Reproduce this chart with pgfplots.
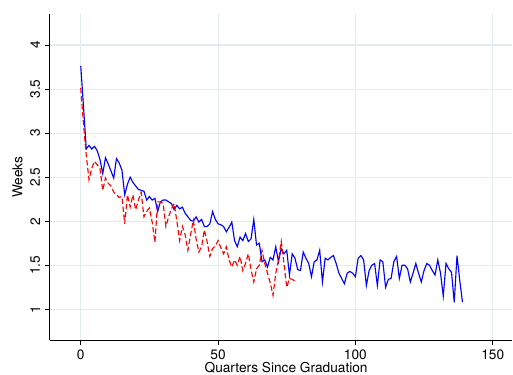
\documentclass[border=0pt]{standalone}
\usepackage{fontspec}
\setmainfont{TeX Gyre Heros}
\usepackage{pgfplots}
\pgfplotsset{compat=1.18}
\definecolor{gridc}{RGB}{226,235,237}
\definecolor{sblue}{RGB}{0,0,255}
\definecolor{sred}{RGB}{255,0,0}
\begin{document}
\fontsize{10.25pt}{12pt}\selectfont
\begin{tikzpicture}
\begin{axis}[
  scale only axis,
  width=346.9pt, height=244.5pt,
  xmin=-11.38, xmax=157.2,
  ymin=0.648, ymax=4.352,
  axis x line*=bottom, axis y line*=left,
  axis line style={-, line width=0.6pt, black},
  tick align=outside,
  major tick length=3.4pt,
  tick style={black, line width=0.6pt},
  xtick={0,50,100,150},
  ytick={1,1.5,2,2.5,3,3.5,4},
  xmajorgrids, ymajorgrids,
  grid style={gridc, line width=0.8pt},
  /pgf/number format/assume math mode=true,
  tick label style={font=\fontsize{10.25pt}{12pt}\selectfont},
  yticklabel style={rotate=90, anchor=south},
  xlabel={Quarters Since Graduation},
  ylabel={Weeks},
  every axis x label/.style={at={(axis description cs:0.511,-0.098)}, anchor=base},
  every axis y label/.style={at={(axis description cs:-0.069,0.5)}, anchor=center, rotate=90},
]
\addplot[sblue, line width=0.85pt] coordinates {
(0,3.76)(1,3.30)(2,2.82)(3,2.86)(4,2.82)(5,2.85)(6,2.80)(7,2.70)(8,2.54)(9,2.72)
(10,2.65)(11,2.57)(12,2.49)(13,2.71)(14,2.66)(15,2.58)(16,2.30)(17,2.42)(18,2.50)(19,2.44)
(20,2.40)(21,2.36)(22,2.35)(23,2.34)(24,2.24)(25,2.28)(26,2.24)(27,2.26)(28,2.11)(29,2.22)
(30,2.24)(31,2.24)(32,2.22)(33,2.20)(34,2.13)(35,2.18)(36,2.14)(37,2.16)(38,2.09)(39,2.05)
(40,2.01)(41,2.00)(42,2.05)(43,1.99)(44,2.02)(45,1.94)(46,1.94)(47,1.97)(48,2.11)(49,2.02)
(50,1.97)(51,1.96)(52,1.94)(53,1.88)(54,1.93)(55,1.99)(56,1.78)(57,1.71)(58,1.82)(59,1.78)
(60,1.86)(61,1.77)(62,1.80)(63,2.02)(64,1.73)(65,1.75)(66,1.54)(67,1.56)(68,1.48)(69,1.59)
(70,1.56)(71,1.71)(72,1.54)(73,1.69)(74,1.63)(75,1.67)(76,1.39)(77,1.63)(78,1.58)(79,1.45)
(80,1.44)(81,1.65)(82,1.58)(83,1.52)(84,1.37)(85,1.54)(86,1.56)(87,1.67)(88,1.31)(89,1.58)
(90,1.56)(91,1.59)(92,1.61)(93,1.52)(94,1.41)(95,1.35)(96,1.29)(97,1.41)(98,1.43)(99,1.41)
(100,1.37)(101,1.58)(102,1.61)(103,1.56)(104,1.27)(105,1.44)(106,1.50)(107,1.52)(108,1.27)(109,1.56)
(110,1.54)(111,1.25)(112,1.34)(113,1.35)(114,1.54)(115,1.60)(116,1.35)(117,1.50)(118,1.50)(119,1.46)
(120,1.31)(121,1.41)(122,1.52)(123,1.41)(124,1.31)(125,1.44)(126,1.52)(127,1.50)(128,1.44)(129,1.39)
(130,1.56)(131,1.41)(132,1.15)(133,1.52)(134,1.46)(135,1.42)(136,1.08)(137,1.61)(138,1.33)(139,1.08)
};
\addplot[sred, line width=0.85pt, dash pattern=on 4pt off 2pt] coordinates {
(0,3.51)(1,3.10)(2,2.75)(3,2.47)(4,2.60)(5,2.68)(6,2.64)(7,2.60)(8,2.35)(9,2.49)
(10,2.43)(11,2.40)(12,2.33)(13,2.30)(14,2.27)(15,2.28)(16,1.97)(17,2.30)(18,2.16)(19,2.30)
(20,2.13)(21,2.24)(22,2.33)(23,2.05)(24,2.11)(25,2.15)(26,1.99)(27,1.76)(28,2.22)(29,2.22)
(30,2.20)(31,1.94)(32,2.05)(33,2.14)(34,2.20)(35,2.00)(36,1.78)(37,1.94)(38,1.85)(39,1.67)
(40,1.85)(41,2.01)(42,1.80)(43,1.65)(44,1.71)(45,1.90)(46,1.77)(47,1.60)(48,1.69)(49,1.72)
(50,1.78)(51,1.70)(52,1.63)(53,1.71)(54,1.56)(55,1.48)(56,1.56)(57,1.50)(58,1.60)(59,1.44)
(60,1.52)(61,1.63)(62,1.45)(63,1.31)(64,1.46)(65,1.50)(66,1.67)(67,1.52)(68,1.41)(69,1.30)
(70,1.16)(71,1.41)(72,1.56)(73,1.77)(74,1.52)(75,1.25)(76,1.35)(77,1.34)(78,1.32)
};
\end{axis}
\pgfresetboundingbox
\path[use as bounding box] ([xshift=-37.1pt,yshift=-25.5pt]current axis.south west) rectangle ([xshift=0.4pt,yshift=10.5pt]current axis.north east);
\end{tikzpicture}
\end{document}
